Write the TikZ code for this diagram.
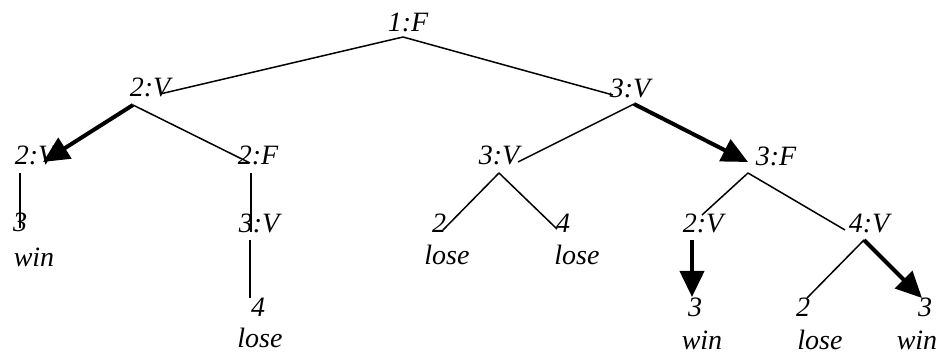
\documentclass[tikz,border=0pt]{standalone}
\usepackage{fontspec}
\setmainfont{Liberation Serif}
\usetikzlibrary{arrows.meta, calc}

\begin{document}
\begin{tikzpicture}[
    x=1pt, y=-1pt,
    every node/.style={font=\fontsize{28}{34}\selectfont\itshape, inner sep=0pt, anchor=base},
    branch/.style={line width=1.5pt},
    best/.style={line width=4pt, -{Triangle[length=26pt, width=24pt]}}
]
\useasboundingbox (0,0) rectangle (940,355);

% ==================== ROOT ====================
\node (root) at (408, 32) {1:F};

% ==================== LEFT SUBTREE ====================
\node (va)   at (150, 97)  {2:V};
\node (vc)   at (35, 165)  {2:V};
\node (fc)   at (258, 165) {2:F};
\node (c3)   at (20, 232)  {3};
\node (cwin) at (34, 267)  {win};
\node (vf)   at (259, 233) {3:V};
\node (f4)   at (258, 317) {4};
\node (flose) at (260, 348) {lose};

\draw[branch] ($(root.base)+(-5,5)$) -- ($(va.base)+(10,-3)$);
\draw[best]   ($(va.base)+(-17,8)$) -- ($(vc.base)+(8,-3)$);
\draw[branch] ($(va.base)+(-17,8)$) -- ($(fc.base)+(-8,-2)$);
\draw[branch] ($(vc.base)+(-15,8)$) -- ($(c3.base)+(0,-4)$);
\draw[branch] ($(fc.base)+(-7,8)$) -- ($(vf.base)+(-8,-1)$);
\draw[branch] ($(vf.base)+(-9,7)$) -- ($(f4.base)+(-8,-19)$);

% ==================== RIGHT SUBTREE ====================
\node (vb)   at (630, 98)  {3:V};
\node (vd)   at (499, 165) {3:V};
\node (fd)   at (776, 166) {3:F};
\node (m2)   at (439, 233) {2};
\node (m2lose) at (447, 265) {lose};
\node (m4)   at (563, 233) {4};
\node (m4lose) at (577, 265) {lose};
\node (rv2)  at (703, 233) {2:V};
\node (rv4)  at (869, 233) {4:V};
\node (r3)   at (695, 317) {3};
\node (r3win) at (702, 349) {win};
\node (r2)   at (803, 317) {2};
\node (r2lose) at (820, 349) {lose};
\node (r3b)  at (925, 317) {3};
\node (r3bwin) at (917, 349) {win};

\draw[branch] ($(root.base)+(-5,5)$) -- ($(vb.base)+(-17,-3)$);
\draw[branch] ($(vb.base)+(4,6)$) -- ($(vd.base)+(19,-3)$);
\draw[best]   ($(vb.base)+(4,6)$) -- ($(fd.base)+(-28,-4)$);
\draw[branch] ($(vd.base)+(0,8)$) -- ($(m2.base)+(4,-3)$);
\draw[branch] ($(vd.base)+(0,8)$) -- ($(m4.base)+(-6,-4)$);
\draw[branch] ($(fd.base)+(-28,7)$) -- ($(rv2.base)+(-1,-18)$);
\draw[branch] ($(fd.base)+(-28,7)$) -- ($(rv4.base)+(-24,-3)$);
\draw[best]   ($(rv2.base)+(-11,7)$) -- ($(r3.base)+(-3,-20)$);
\draw[branch] ($(rv4.base)+(-5,7)$) -- ($(r2.base)+(4,-19)$);
\draw[best]   ($(rv4.base)+(-5,7)$) -- ($(r3b.base)+(-3,-19)$);

\end{tikzpicture}
\end{document}
